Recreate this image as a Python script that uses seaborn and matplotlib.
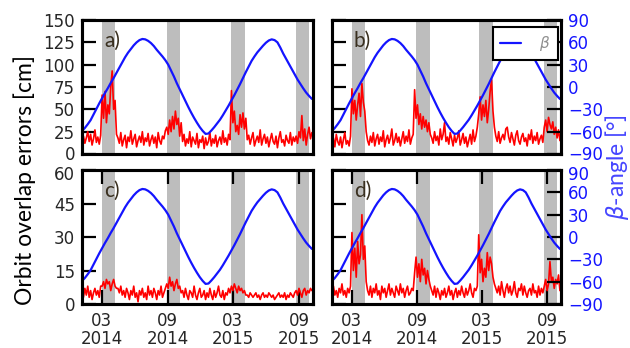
import numpy as np
import pandas as pd
import matplotlib
matplotlib.use("Agg")
import matplotlib.pyplot as plt
import matplotlib.dates as mdates
import matplotlib.transforms as mtransforms
import seaborn as sns

sns.set_theme(style="white")
plt.rcParams["font.family"] = ["DejaVu Sans"]

# ---------------- data ----------------
series_start = "2014-01-05"
err_step_days = 4
beta_step_days = 8

err_a = [15, 20, 12, 18, 25, 14, 22, 10, 17, 27, 13, 19, 11, 21,
         66, 40, 70, 35, 55, 45, 75, 93, 50, 60, 22,
         18, 12, 24, 9, 16, 21, 7, 19, 14, 26, 11, 17, 22, 8, 15, 20, 13, 25, 10, 18, 14, 23, 9, 16, 21, 12, 19, 7, 24, 15, 11, 20, 17, 26,
         30, 22, 38, 25, 42, 28, 48, 33, 40, 20, 35,
         14, 22, 9, 17, 12, 25, 8, 19, 15, 11, 23, 7, 16, 13, 20, 6, 18, 10, 14, 24, 9, 17, 12, 21, 8, 15, 19, 11, 26, 13, 18, 10, 22, 16,
         71, 35, 48, 25, 32, 22, 44, 30, 46, 28, 40,
         16, 21, 11, 18, 24, 9, 15, 20, 13, 27, 10, 17, 22, 12, 19, 8, 16, 23, 14, 11, 20, 7, 18, 25, 13, 16, 9, 21, 15, 12, 24, 10, 19, 14,
         20, 12, 25, 18, 43, 15, 28, 10, 22, 30, 17, 24]

err_b = [12, 18, 8, 22, 14, 10, 19, 7, 16, 24, 11, 15, 9, 20,
         73, 45, 60, 38, 55, 68, 42, 79, 58, 48, 25,
         15, 10, 20, 13, 24, 9, 17, 22, 11, 19, 14, 26, 8, 16, 21, 12, 18, 28, 10, 15, 23, 13, 19, 9, 17, 25, 12, 20, 14, 27, 11, 18, 22,
         72, 40, 55, 33, 45, 28, 42, 30, 38, 25, 35, 22,
         18, 12, 25, 15, 20, 10, 28, 16, 22, 35, 14, 19, 11, 24, 17, 9, 21, 13, 18, 26, 10, 16, 23, 12, 19, 8, 15, 22, 11, 27, 14, 20, 30,
         45, 64, 38, 55, 42, 60, 35, 50, 70, 83, 48, 30,
         20, 14, 25, 12, 18, 22, 16, 28, 30, 19, 13, 24, 17, 10, 21, 26, 15, 11, 19, 23, 14, 18, 9, 22, 16, 27, 12, 20, 15, 24, 11, 17, 21, 13,
         30, 38, 25, 41, 33, 28, 36, 22, 30, 18, 27, 15]

err_c = [5, 3, 7, 4, 8, 3, 6, 2, 5, 7, 4, 6, 3, 8,
         8, 10, 7, 11, 9, 10, 6, 9, 11, 8, 7,
         7, 5, 8, 4, 6, 3, 7, 5, 2, 6, 4, 8, 3, 5, 1, 6, 4, 7, 3, 5, 2, 8, 4, 6, 3, 7, 5, 2, 6, 4, 8, 3, 5, 7,
         9, 7, 12, 8, 10, 6, 9, 11, 7, 8, 5,
         6, 3, 7, 4, 2, 6, 5, 3, 8, 4, 2, 5, 7, 3, 4, 6, 2, 5, 3, 7, 4, 2, 6, 3, 5, 8, 4, 3, 6, 2, 5, 4, 7, 5,
         8, 6, 9, 7, 5, 8, 6, 7, 5, 6, 4,
         4, 3, 5, 4, 3, 4, 5, 3, 4, 2, 4, 5, 3, 4, 3, 5, 4, 3, 4, 2, 3, 4, 5, 3, 4, 3, 5, 2, 4, 3, 5, 4, 3, 5,
         6, 4, 7, 5, 3, 6, 7, 4, 6, 5, 7, 6]

err_d = [5, 8, 4, 6, 3, 7, 5, 9, 4, 6, 3, 7, 5, 8,
         32, 15, 25, 12, 28, 18, 22, 40, 20, 26, 10,
         6, 4, 8, 3, 7, 5, 9, 4, 6, 2, 8, 5, 7, 3, 6, 9, 4, 7, 5, 3, 8, 6, 4, 9, 5, 7, 3, 6, 8, 4, 5, 7, 6,
         14, 21, 12, 18, 10, 20, 13, 16, 9, 15, 11, 8,
         6, 4, 8, 3, 7, 5, 2, 6, 4, 7, 3, 5, 8, 4, 6, 2, 5, 7, 3, 6, 4, 8, 5, 3, 7, 4, 6, 9, 5, 3, 7, 6, 8,
         31, 14, 20, 10, 16, 12, 23, 15, 21, 18, 12, 9,
         7, 5, 8, 4, 10, 6, 3, 7, 9, 5, 8, 4, 6, 10, 5, 3, 7, 6, 9, 4, 8, 5, 3, 6, 7, 4, 9, 5, 6, 3, 8, 4, 7, 5,
         8, 11, 6, 9, 19, 10, 12, 7, 11, 9, 13, 6]

beta = [-59, -55, -50, -44.5, -37, -29.5, -22, -15, -8, -1.5, 5.5, 12, 19, 26, 33, 40,
        46, 51, 56, 60, 63, 64.5, 64, 62, 59, 55, 50, 45.5, 41, 36, 30, 22,
        14, 5, -3, -11, -19, -27, -34.5, -41.5, -48, -54, -59, -63, -62.5, -58.5, -54, -49,
        -44, -38, -31.5, -25, -18, -11, -3.5, 4, 12, 20, 27.5, 35, 41, 46.5, 51, 55.5,
        59.5, 62.5, 64, 63, 60, 53, 45, 38, 31, 24, 17, 10, 4, -2, -7.5, -12, -16]

band_starts = ["2014-03-01", "2014-08-30", "2015-02-23", "2015-08-23"]
band_ends = ["2014-04-07", "2014-10-06", "2015-04-03", "2015-09-29"]
xtick_dates = ["2014-03-01", "2014-09-01", "2015-03-01", "2015-09-01"]
xlim_dates = ["2014-01-05", "2015-10-10"]
panel_labels = ["a)", "b)", "c)", "d)"]

# ---------------- figure ----------------
fig = plt.figure(figsize=(6.3, 3.48), dpi=100)
W, H = 630.0, 348.0
boxes = [(82, 20, 231, 134), (332, 20, 229, 134),
         (82, 170, 231, 134), (332, 170, 229, 134)]

err_dates = pd.date_range(series_start, periods=len(err_a), freq=f"{err_step_days}D")
beta_dates = pd.date_range(series_start, periods=len(beta), freq=f"{beta_step_days}D")
errs = [err_a, err_b, err_c, err_d]
ylims = [(0, 150), (0, 150), (0, 60), (0, 60)]
yticks = [np.arange(0, 151, 25), np.arange(0, 151, 25), np.arange(0, 61, 15), np.arange(0, 61, 15)]

blue = "#1414ff"
tick_kw = dict(direction="in", length=10, width=1.6, color="black", labelsize=12)


def nudge(tick, dy_pt):
    lab = tick.label1 if tick.label1.get_visible() else tick.label2
    for lb in (tick.label1, tick.label2):
        lb.set_transform(lb.get_transform() +
                         mtransforms.ScaledTranslation(0, dy_pt / 72.0, fig.dpi_scale_trans))


for k in range(4):
    l, t, w, h = boxes[k]
    ax = fig.add_axes([l / W, 1 - (t + h) / H, w / W, h / H])
    for s, e in zip(band_starts, band_ends):
        ax.axvspan(pd.Timestamp(s), pd.Timestamp(e), color="#bdbdbd", lw=0, zorder=0)
    sns.lineplot(x=err_dates, y=errs[k], ax=ax, color="red", lw=1.2, zorder=2)
    ax.set_ylim(*ylims[k])
    ax.set_yticks(yticks[k])
    ax.set_xlim(pd.Timestamp(xlim_dates[0]), pd.Timestamp(xlim_dates[1]))
    ax.set_xticks([pd.Timestamp(d) for d in xtick_dates])
    ax.xaxis.set_major_formatter(mdates.DateFormatter("%m\n%Y"))
    ax.set_xlabel("")
    ax.set_ylabel("")
    ax.tick_params(**tick_kw)
    ax.tick_params(axis="x", pad=6)
    ax.tick_params(axis="y", pad=5)
    if k < 2:
        ax.tick_params(axis="x", bottom=False, top=False, labelbottom=False)
    else:
        ax.tick_params(axis="x", bottom=True, top=True, labelbottom=True)
        for lab in ax.get_xticklabels():
            lab.set_linespacing(1.0)
    if k in (1, 3):
        ax.tick_params(axis="y", left=False, labelleft=False)
    else:
        ax.tick_params(axis="y", left=True, labelleft=True, right=False)
    for sp in ax.spines.values():
        sp.set_linewidth(2.2)
        sp.set_color("black")

    ax2 = ax.twinx()
    sns.lineplot(x=beta_dates, y=beta, ax=ax2, color=blue, lw=1.6,
                 label=r"$\beta$" if k == 1 else None, legend=False)
    ax2.set_ylim(-90, 90)
    ax2.set_yticks(np.arange(-90, 91, 30))
    ax2.set_ylabel("")
    ax2.tick_params(**tick_kw)
    ax2.tick_params(axis="y", pad=5, labelcolor=blue)
    for sp in ax2.spines.values():
        sp.set_linewidth(2.2)
        sp.set_color("black")
    if k in (1, 3):
        ax2.tick_params(axis="y", right=True, labelright=True)
    else:
        ax2.tick_params(axis="y", right=False, labelright=False)
    ax2.set_xlim(pd.Timestamp(xlim_dates[0]), pd.Timestamp(xlim_dates[1]))

    # small vertical nudges so the stacked end labels (0 / 60, -90 / 90) separate as in the reference
    if k == 0:
        nudge(ax.yaxis.get_major_ticks()[0], 1.0)
    if k == 1:
        nudge(ax2.yaxis.get_major_ticks()[0], 1.0)
    if k == 2:
        nudge(ax.yaxis.get_major_ticks()[-1], -2.0)
    if k == 3:
        nudge(ax2.yaxis.get_major_ticks()[-1], -2.0)

    ax2.text(0.095, 0.845, panel_labels[k], transform=ax.transAxes, fontsize=15,
             family=["Lato", "DejaVu Sans"], color="#3a3020", va="center", ha="left", zorder=5)

    if k == 1:
        leg = ax2.legend(loc="upper right", bbox_to_anchor=(0.985, 0.945), borderaxespad=0,
                         fontsize=11, handlelength=1.4, handletextpad=1.2, borderpad=0.45,
                         fancybox=False, framealpha=1, edgecolor="black")
        leg.get_frame().set_linewidth(1.5)
        for txt in leg.get_texts():
            txt.set_color("#909090")

fig.text(25 / W, 1 - 180 / H, "Orbit overlap errors [cm]", rotation=90, ha="center", va="center",
         fontsize=16.5, family=["Lato", "DejaVu Sans"], color="black")
fig.text(617 / W, 1 - 167 / H, r"$\beta$-angle [°]", rotation=90, ha="center", va="center",
         fontsize=16.5, family=["Lato", "DejaVu Sans"], color="#4646ff")

fig.savefig("out.png", dpi=100)
